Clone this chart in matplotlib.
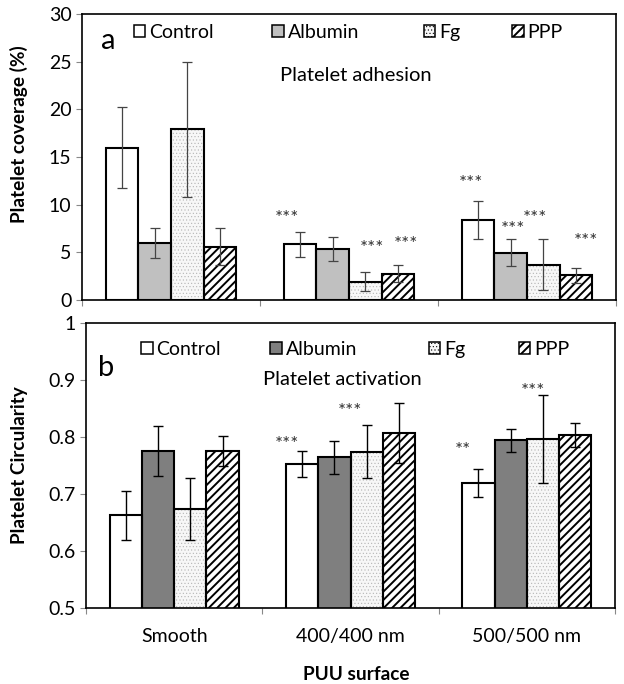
import numpy as np
import matplotlib
matplotlib.use("Agg")
import matplotlib.pyplot as plt
from matplotlib.patches import Patch
from matplotlib.legend import Legend

plt.rcParams['font.family'] = ['Lato', 'DejaVu Sans']

surfaces = ["Smooth", "400/400 nm", "500/500 nm"]
series = ["Control", "Albumin", "Fg", "PPP"]

# panel a: platelet coverage (%)
cov_mean = {
    "Control": [16.0, 5.85, 8.35],
    "Albumin": [6.0, 5.35, 4.95],
    "Fg":      [17.9, 1.9, 3.7],
    "PPP":     [5.6, 2.75, 2.6],
}
cov_err = {
    "Control": [4.3, 1.3, 2.0],
    "Albumin": [1.6, 1.3, 1.4],
    "Fg":      [7.1, 1.0, 2.65],
    "PPP":     [1.95, 0.9, 0.8],
}
# panel b: platelet circularity
circ_mean = {
    "Control": [0.662, 0.752, 0.719],
    "Albumin": [0.775, 0.764, 0.794],
    "Fg":      [0.673, 0.774, 0.796],
    "PPP":     [0.775, 0.807, 0.803],
}
circ_err = {
    "Control": [0.043, 0.023, 0.025],
    "Albumin": [0.044, 0.029, 0.020],
    "Fg":      [0.054, 0.047, 0.077],
    "PPP":     [0.027, 0.053, 0.021],
}

# significance marks: (series, surface index, label, height)
cov_marks = [("Control", 1, "***", 8.5), ("Fg", 1, "***", 5.4), ("PPP", 1, "***", 5.85),
             ("Control", 2, "***", 12.2), ("Albumin", 2, "***", 7.35),
             ("Fg", 2, "***", 8.6), ("PPP", 2, "***", 6.15)]
circ_marks = [("Control", 1, "***", 0.786), ("Fg", 1, "***", 0.844),
              ("Control", 2, "**", 0.775), ("Fg", 2, "***", 0.879)]

W = 0.183
x = np.arange(len(surfaces))


def styles(alb_color):
    return {
        "Control": dict(color="white", hatch=None, hcol="black", hlw=1.0),
        "Albumin": dict(color=alb_color, hatch=None, hcol="black", hlw=1.0),
        "Fg":      dict(color="#f7f7f7", hatch=".....", hcol="#b4b4b4", hlw=0.4),
        "PPP":     dict(color="white", hatch="////", hcol="black", hlw=1.4),
    }


def draw_panel(ax, means, errs, marks, alb_color, ecol, elw, mark_dx, leg_x, leg_y):
    st = styles(alb_color)
    for i, s in enumerate(series):
        pos = x + (i - 1.5) * W
        plt.rcParams['hatch.linewidth'] = st[s]["hlw"]
        ax.bar(pos, means[s], W, color=st[s]["color"], hatch=st[s]["hatch"],
               edgecolor=st[s]["hcol"], linewidth=0, zorder=2)
        ax.bar(pos, means[s], W, fill=False, edgecolor="black", linewidth=1.5, zorder=3)
        ax.errorbar(pos, means[s], yerr=errs[s], fmt="none", ecolor=ecol,
                    elinewidth=elw, capsize=3.5, capthick=elw, zorder=4)
        h = Patch(facecolor=st[s]["color"], hatch=st[s]["hatch"],
                  edgecolor="black", linewidth=1.1, label=s)
        # one small legend per entry, placed like the original spreadsheet legend
        leg = Legend(ax, [h], [s], loc="center left", bbox_to_anchor=(leg_x[i], leg_y),
                     frameon=False, fontsize=14, handlelength=0.6, handleheight=0.6,
                     handletextpad=0.2, borderaxespad=0, borderpad=0)
        ax.add_artist(leg)
    plt.rcParams['hatch.linewidth'] = 1.0
    for (s, g, lab, yv), dx in zip(marks, mark_dx):
        xp = x[g] + (series.index(s) - 1.5) * W + dx
        ax.text(xp, yv, lab, ha="center", va="center", fontsize=13.5, color="#333333")
    ax.set_xlim(-0.5, 2.5)
    ax.set_xticks([-0.5, 0.5, 1.5, 2.5])
    ax.tick_params(axis="x", length=4, color="#888888", labelbottom=False)
    ax.tick_params(axis="y", length=4, color="#888888", labelsize=14)
    for sp in ax.spines.values():
        sp.set_linewidth(1.2)


fig = plt.figure(figsize=(6.24, 6.84), dpi=100)
ax1 = fig.add_axes([0.1314, 0.5614, 0.8558, 0.418])
ax2 = fig.add_axes([0.1378, 0.1115, 0.8478, 0.4167])

draw_panel(ax1, cov_mean, cov_err, cov_marks, "#c0c0c0", "#444444", 0.9,
           [-0.074, 0.037, 0.045, -0.04, 0.01, -0.047, 0.055],
           [0.097, 0.356, 0.64, 0.805], 0.935)
ax1.set_ylim(0, 30)
ax1.set_yticks([0, 5, 10, 15, 20, 25, 30])
ax1.set_ylabel("Platelet coverage (%)", fontsize=13.7, fontweight="bold")
ax1.yaxis.set_label_coords(-0.102, 0.58)
ax1.text(0.05, 0.905, "a", transform=ax1.transAxes, fontsize=21, va="center", ha="center")
ax1.text(0.513, 0.785, "Platelet adhesion", transform=ax1.transAxes, fontsize=14.5, ha="center", va="center")

draw_panel(ax2, circ_mean, circ_err, circ_marks, "#7f7f7f", "black", 1.0,
           [-0.086, -0.095, -0.088, -0.057],
           [0.104, 0.348, 0.648, 0.818], 0.907)
ax2.set_ylim(0.5, 1.0)
ax2.set_yticks([0.5, 0.6, 0.7, 0.8, 0.9, 1.0])
ax2.set_yticklabels(["0.5", "0.6", "0.7", "0.8", "0.9", "1"])
for xi, lab in zip(x, surfaces):
    ax2.text(xi, -0.1, lab, transform=ax2.get_xaxis_transform(), ha="center", va="center", fontsize=14)
ax2.text(0.51, -0.235, "PUU surface", transform=ax2.transAxes, ha="center", va="center",
         fontsize=13.7, fontweight="bold")
ax2.set_ylabel("Platelet Circularity", fontsize=13.7, fontweight="bold")
ax2.yaxis.set_label_coords(-0.11, 0.5)
ax2.text(0.038, 0.842, "b", transform=ax2.transAxes, fontsize=21, va="center", ha="center")
ax2.text(0.485, 0.802, "Platelet activation", transform=ax2.transAxes, fontsize=14.5, ha="center", va="center")

fig.savefig("out.png", dpi=100)
